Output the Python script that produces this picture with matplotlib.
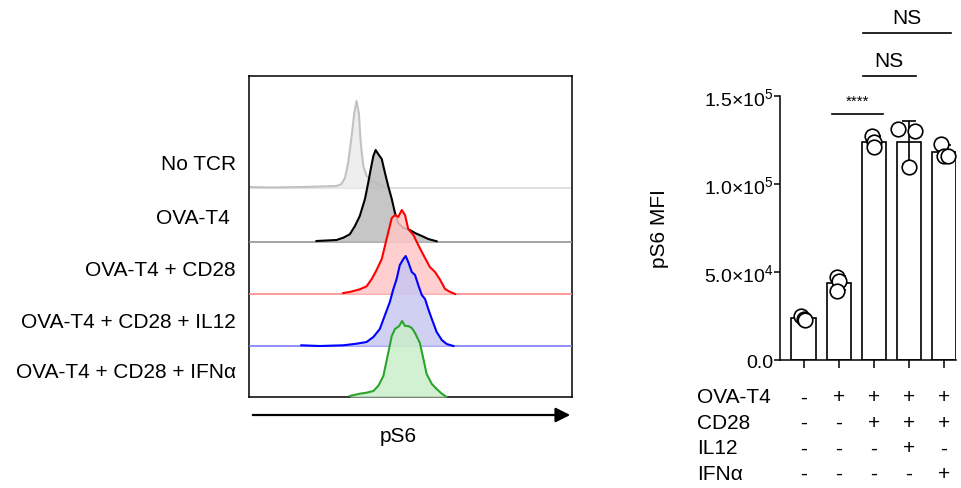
import numpy as np
import matplotlib
matplotlib.use('Agg')
import matplotlib.pyplot as plt
from matplotlib.patches import FancyArrowPatch
from matplotlib.transforms import blended_transform_factory

plt.rcParams['font.family'] = ['Liberation Sans', 'DejaVu Sans']
plt.rcParams['mathtext.fontset'] = 'custom'
plt.rcParams['mathtext.rm'] = 'Liberation Sans'
plt.rcParams['mathtext.default'] = 'regular'

# ---- flow histograms (pS6 on a 0-100 scale, height in arbitrary units) ----
hist_labels = ['No TCR', 'OVA-T4 ', 'OVA-T4 + CD28', 'OVA-T4 + CD28 + IL12', 'OVA-T4 + CD28 + IFNα']

no_tcr_x = [0, 6.9, 16.8, 27.1, 28.6, 29.7, 30.7, 31.7, 32.6, 33.3, 34.0, 34.6, 35.4, 36.4, 38.0, 40.0, 42.6]
no_tcr_y = [1, 0.5, 1, 2, 4, 10, 25, 50, 75, 87, 75, 45, 22, 12, 7, 4, 0]

ova_x = [20.9, 27.1, 29.2, 31.2, 32.8, 34.3, 35.9, 36.9, 37.7, 38.5, 39.2, 40.0, 41.1, 42.1,
         43.1, 44.2, 45.2, 46.2, 47.8, 49.8, 51.4, 53.5, 55.5, 58.1]
ova_y = [1, 2, 4.3, 7.7, 16, 26, 43, 59, 73, 86, 92, 88, 83, 69, 56, 43, 29, 19, 14, 12, 9, 6, 3, 0.7]

cd28_x = [29.2, 31.2, 34.3, 36.4, 38.0, 39.5, 41.1, 42.6, 44.2, 45.2, 46.2, 47.3, 48.3, 49.3,
          50.9, 52.4, 54.0, 56.0, 57.6, 59.2, 60.7, 62.3, 63.8]
cd28_y = [1, 2, 4.7, 7.7, 15, 24, 35, 55, 76, 79, 77, 84, 79, 65, 59, 49, 39, 27, 22, 14, 5, 2, 0]

il12_x = [16.2, 21.9, 29.2, 33.3, 36.4, 38.5, 40.5, 42.1, 43.6, 44.7, 45.7, 46.7, 47.8, 48.5,
          49.3, 50.4, 51.4, 52.4, 53.5, 54.5, 55.5, 56.6, 58.1, 59.7, 61.2, 63.3]
il12_y = [0.7, 0, 0.7, 2.3, 4, 9, 17, 31, 44, 57, 67, 81, 87, 90, 84, 74, 71, 61, 51, 47, 37, 27, 14, 6, 2, 0]

ifna_x = [31.2, 34.3, 36.4, 38.5, 40.0, 41.6, 43.1, 44.2, 45.2, 46.5, 47.4, 48.3, 49.3, 50.4,
          51.4, 52.9, 54.0, 55.0, 56.6, 58.1, 59.7, 61.2]
ifna_y = [1, 3.3, 4.3, 6, 11, 21, 44, 61, 68, 71, 76, 71, 71, 69, 64, 54, 38, 23, 13, 8, 3.3, 0]

hist_xs = [no_tcr_x, ova_x, cd28_x, il12_x, ifna_x]
hist_ys = [no_tcr_y, ova_y, cd28_y, il12_y, ifna_y]

# ---- bar chart ----
conditions = ['OVA-T4', 'CD28', 'IL12', 'IFNα']
signs = [['-', '+', '+', '+', '+'],
         ['-', '-', '+', '+', '+'],
         ['-', '-', '-', '+', '-'],
         ['-', '-', '-', '-', '+']]
replicates = [[25000, 23400, 22700],
              [47200, 45000, 39000],
              [127500, 124000, 120800],
              [131250, 130100, 109700],
              [123000, 115800, 116000]]
brackets = [(1, 2, '****'), (2, 3, 'NS'), (2, 4, 'NS')]

# styling
line_cols = ['#c2c2c2', 'black', 'red', 'blue', '#2aa52a']
fill_cols = ['#ececec', '#bcbcbc', '#ffc6c6', '#c8c8f2', '#caeeca']
base_cols = ['#d6d6d6', '#8c8c8c', '#ff8080', '#7070ff', '#2aa52a']
offsets = [209, 155, 103, 51, 0]
jitter = [[-0.08, 0.0, 0.05], [-0.05, 0.0, -0.05], [-0.06, 0.0, 0.0],
          [-0.3, 0.16, 0.0], [-0.08, 0.0, 0.1]]

fig = plt.figure(figsize=(9.61, 4.89), dpi=100)

# ---------------- histogram panel ----------------
ax1 = fig.add_axes([249 / 961, 1 - 398 / 489, 323 / 961, 321 / 489])
for i in range(5):
    x = np.array(hist_xs[i])
    y = np.array(hist_ys[i]) + offsets[i]
    if i < 4:
        ax1.plot([0, 100], [offsets[i], offsets[i]], color=base_cols[i], lw=1.1, zorder=2 + i)
    ax1.fill_between(x, offsets[i], y, color=fill_cols[i], alpha=0.85, lw=0, zorder=2 + i)
    ax1.plot(x, y, color=line_cols[i], lw=1.5, zorder=2 + i)
ax1.set_xlim(0, 100)
ax1.set_ylim(0, 321)
ax1.set_xticks([])
ax1.set_yticks([])
for s in ax1.spines.values():
    s.set_linewidth(1.1)

tr = blended_transform_factory(fig.transFigure, ax1.transData)
for i, lab in enumerate(hist_labels):
    fig.text(236 / 961, offsets[i] + 25, lab, transform=tr, ha='right', va='center', fontsize=15)

fig.add_artist(FancyArrowPatch(
    (250 / 961, 1 - 416 / 489), (573 / 961, 1 - 416 / 489), transform=fig.transFigure,
    arrowstyle='-|>', mutation_scale=22, lw=1.6, color='black'))
fig.text(398 / 961, 1 - 437 / 489, 'pS6', ha='center', va='center', fontsize=15)

# ---------------- bar panel ----------------
ax2 = fig.add_axes([780 / 961, 1 - 361 / 489, 176 / 961, 264 / 489])
pos = np.arange(len(replicates))
means = [np.mean(r) for r in replicates]
sds = [np.std(r, ddof=1) for r in replicates]
ax2.bar(pos, means, width=0.686, color='white', edgecolor='black', lw=1.2, zorder=2)
ax2.errorbar(pos, means, yerr=sds, fmt='none', ecolor='black', elinewidth=1.2,
             capsize=5, capthick=1.2, zorder=3)
for i, r in enumerate(replicates):
    ax2.plot(pos[i] + np.array(jitter[i]), r, 'o', ms=10.5, mfc='white', mec='black',
             mew=1.2, zorder=4, clip_on=False)

ax2.set_xlim(-0.67, 4.34)
ax2.set_ylim(0, 150000)
ax2.set_yticks([0, 50000, 100000, 150000])
ax2.set_yticklabels(['0.0', r'5.0×10$^4$', r'1.0×10$^5$', r'1.5×10$^5$'], fontsize=14)
ax2.set_xticks(pos)
ax2.set_xticklabels([])
ax2.tick_params(axis='y', length=4, width=1.1, pad=1)
ax2.tick_params(axis='x', length=6, width=1.1)
ax2.spines['top'].set_visible(False)
ax2.spines['right'].set_visible(False)
ax2.spines['left'].set_linewidth(1.1)
ax2.spines['bottom'].set_linewidth(1.1)
ax2.set_ylabel('pS6 MFI', fontsize=15)
ax2.yaxis.set_label_coords(-0.63, 0.5)

# significance brackets
br_y = [139800, 161400, 185800]
br_span = [(-0.2, 0.25), (-0.32, 0.2), (-0.32, 0.2)]
for k, (a, b, lab) in enumerate(brackets):
    x0 = pos[a] + br_span[k][0]
    x1 = pos[b] + br_span[k][1]
    ax2.plot([x0, x1], [br_y[k], br_y[k]], color='black', lw=1.2, clip_on=False)
    if lab == '****':
        ax2.text((x0 + x1) / 2, br_y[k] + 3500, lab, ha='center', va='bottom', fontsize=11)
    else:
        ax2.text((x0 + x1) / 2, br_y[k] + 3500, lab, ha='center', va='bottom', fontsize=15)

# treatment table under the bars
tr2 = blended_transform_factory(ax2.transData, fig.transFigure)
for j, cond in enumerate(conditions):
    yy = 1 - (398 + 25.5 * j) / 489
    fig.text(697 / 961, yy, cond, ha='left', va='center', fontsize=15)
    for i in range(5):
        fig.text(pos[i], yy, signs[j][i], transform=tr2, ha='center', va='center', fontsize=15)

fig.savefig('out.png', dpi=100)
